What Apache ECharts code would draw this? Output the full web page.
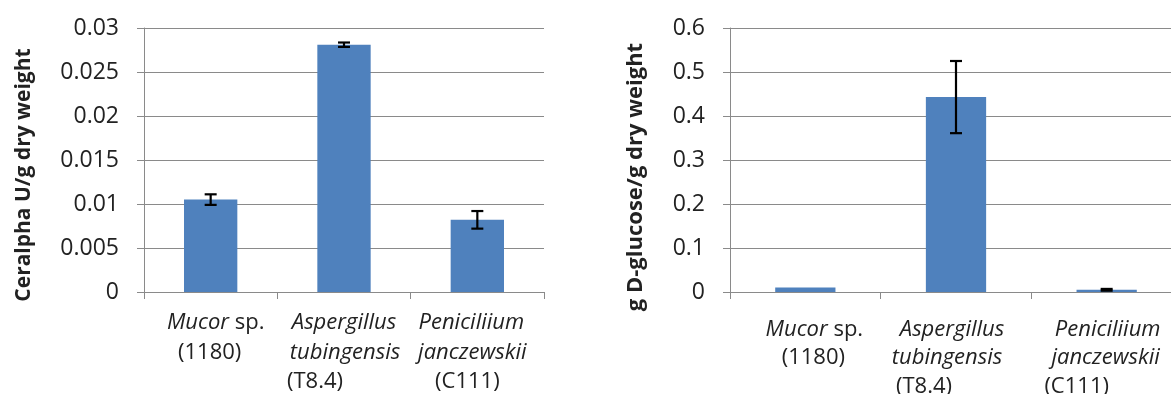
<!DOCTYPE html>
<html>
<head>
<meta charset="utf-8">
<script src="https://cdn.jsdelivr.net/npm/echarts@6/dist/echarts.min.js"></script>
<style>
html,body{margin:0;padding:0;background:#fff;}
#chart{width:1171px;height:394px;}
</style>
</head>
<body>
<div id="chart"></div>
<script>
// ---- data ----
const genus = ['Mucor', 'Aspergillus', 'Peniciliium'];
const epithet = ['sp.', 'tubingensis', 'janczewskii'];
const strain = ['(1180)', '(T8.4)', '(C111)'];
const categories = genus.map((g, i) => g + ' ' + epithet[i] + ' ' + strain[i]);

const ceralphaValues = [0.0105, 0.0281, 0.0082];
const ceralphaErrors = [0.0006, 0.00025, 0.001];
const glucoseValues = [0.010, 0.443, 0.005];
const glucoseErrors = [0, 0.082, 0.002];

const ceralphaTicks = { min: 0, max: 0.03, interval: 0.005 };
const glucoseTicks = { min: 0, max: 0.6, interval: 0.1 };

const leftName = 'Ceralpha U/g dry weight';
const rightName = 'g D-glucose/g dry weight';

// ---- styling / layout ----
const FONT = 'Open Sans';
const TEXT = '#222';
const GRIDC = '#8a8a8a';
const BAR = '#4F81BD';

// per-line horizontal offsets of category labels (px), [chart][category][line]
const lineShift = [
  [[5, -1], [0, 1, -29], [-6, -5, -10]],
  [[9, 8], [-4, -9, -32], [1, -1, -30]]
];

function buildLabel(chartIdx, fontSize, lineHeight) {
  const rich = {};
  const lines = (i) => {
    if (epithet[i] === 'sp.') {
      return [[[genus[i], 'italic'], [' ' + epithet[i], 'normal']], [[strain[i], 'normal']]];
    }
    return [[[genus[i], 'italic']], [[epithet[i], 'italic']], [[strain[i], 'normal']]];
  };
  const formatter = (value, idx) => {
    const ls = lines(idx);
    return ls.map((toks, j) => {
      const sh = lineShift[chartIdx][idx][j] || 0;
      return toks.map((tk, k) => {
        const name = 's' + idx + '_' + j + '_' + k;
        let pad = [0, 0, 0, 0];
        if (sh > 0 && k === 0) pad[3] = 2 * sh;
        if (sh < 0 && k === toks.length - 1) pad[1] = -2 * sh;
        rich[name] = {
          fontFamily: FONT, fontSize: fontSize, fontStyle: tk[1],
          color: TEXT, lineHeight: lineHeight, padding: pad
        };
        return '{' + name + '|' + tk[0].replace(/ /g, '\u00a0') + '}';
      }).join('');
    }).join('\n');
  };
  categories.forEach((c, i) => formatter(c, i));
  return { formatter, rich };
}

const labL = buildLabel(0, 22, 29.5);
const labR = buildLabel(1, 22, 28.5);

function errorRender(params, api) {
  const x = api.value(0), y = api.value(1), e = api.value(2);
  if (!e) return null;
  const top = api.coord([x, y + e]);
  const bot = api.coord([x, y - e]);
  const hw = 6;
  const st = { stroke: '#000', lineWidth: 2.2 };
  return {
    type: 'group',
    children: [
      { type: 'line', shape: { x1: top[0], y1: top[1], x2: bot[0], y2: bot[1] }, style: st },
      { type: 'line', shape: { x1: top[0] - hw, y1: top[1], x2: top[0] + hw, y2: top[1] }, style: st },
      { type: 'line', shape: { x1: bot[0] - hw, y1: bot[1], x2: bot[0] + hw, y2: bot[1] }, style: st }
    ]
  };
}

function xAxis(gridIndex, lab, margin) {
  return {
    type: 'category', gridIndex, data: categories,
    axisLine: { show: true, lineStyle: { color: GRIDC, width: 1 } },
    axisTick: { show: true, length: 7, interval: 0, lineStyle: { color: GRIDC } },
    axisLabel: { interval: 0, margin, formatter: lab.formatter, rich: lab.rich, color: TEXT },
    splitLine: { show: false }
  };
}
function yAxis(gridIndex, ticks, name, nameGap, shiftDown, nameSize) {
  return {
    type: 'value', gridIndex, min: ticks.min, max: ticks.max, interval: ticks.interval,
    name, nameLocation: 'middle', nameGap, nameRotate: 90,
    nameTextStyle: { fontFamily: FONT, fontSize: nameSize, fontWeight: 'bold', color: TEXT, padding: [0, 2 * shiftDown, 0, 0] },
    axisLine: { show: true, lineStyle: { color: GRIDC, width: 1 } },
    axisTick: { show: true, length: 7, lineStyle: { color: GRIDC } },
    axisLabel: { fontFamily: FONT, fontSize: 23, color: TEXT, margin: 25 },
    splitLine: { show: true, lineStyle: { color: GRIDC, width: 1 } }
  };
}

const option = {
  animation: false,
  backgroundColor: '#fff',
  grid: [
    { left: 144, top: 28, width: 400, height: 264, containLabel: false, outerBoundsMode: 'none' },
    { left: 730, top: 28, width: 452, height: 264, containLabel: false, outerBoundsMode: 'none' }
  ],
  xAxis: [xAxis(0, labL, 16), xAxis(1, labR, 23)],
  yAxis: [yAxis(0, ceralphaTicks, leftName, 109, 15, 21), yAxis(1, glucoseTicks, rightName, 83, 17, 22)],
  series: [
    { type: 'bar', xAxisIndex: 0, yAxisIndex: 0, data: ceralphaValues, barWidth: '40%', itemStyle: { color: BAR } },
    { type: 'custom', xAxisIndex: 0, yAxisIndex: 0, renderItem: errorRender, z: 5,
      data: ceralphaValues.map((v, i) => [i, v, ceralphaErrors[i]]) },
    { type: 'bar', xAxisIndex: 1, yAxisIndex: 1, data: glucoseValues, barWidth: '40%', itemStyle: { color: BAR } },
    { type: 'custom', xAxisIndex: 1, yAxisIndex: 1, renderItem: errorRender, z: 5,
      data: glucoseValues.map((v, i) => [i, v, glucoseErrors[i]]) }
  ]
};

const chart = echarts.init(document.getElementById('chart'), null, { renderer: 'canvas' });
chart.setOption(option);
</script>
</body>
</html>
